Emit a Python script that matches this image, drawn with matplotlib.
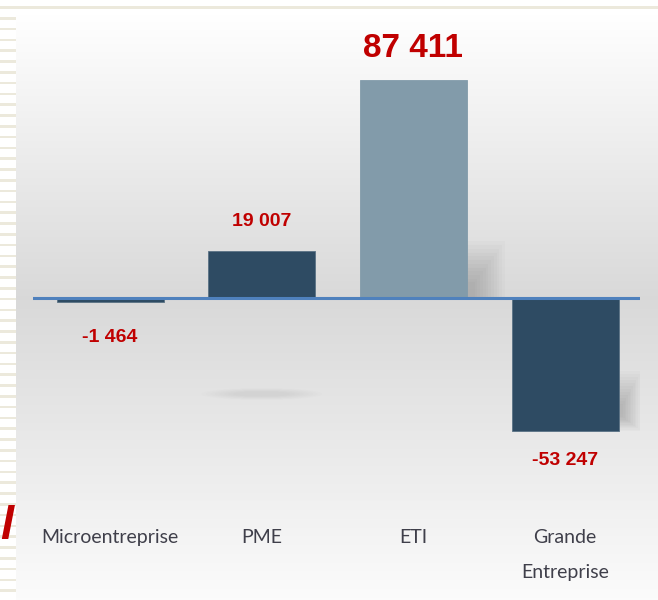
import numpy as np
import matplotlib
matplotlib.use("Agg")
import matplotlib.pyplot as plt
from matplotlib.patches import Rectangle, Ellipse

categories = ["Microentreprise", "PME", "ETI", "Grande\nEntreprise"]
values = [-1464, 19007, 87411, -53247]
value_labels = ["-1 464", "19 007", "87 411", "-53 247"]
bar_colors = ["#2E4B63", "#2E4B63", "#829BAA", "#2E4B63"]

W, H = 658, 600
fig = plt.figure(figsize=(W / 100, H / 100), dpi=100)
fig.patch.set_facecolor("white")

def fx(px):
    return px / W

def fy(py):
    return 1 - py / H

# background gradient panel
bg = fig.add_axes([fx(16), 0, 1 - fx(16), fy(14)])
yy = np.linspace(0, 1, 400)
top_c, mid_c, bot_c = 1.0, 0.85, 0.985
mid = (298 - 14) / (600 - 14)
g = np.where(yy < mid, top_c + (mid_c - top_c) * (yy / mid),
             mid_c + (bot_c - mid_c) * ((yy - mid) / (1 - mid)))
img = np.repeat(g[:, None], 2, axis=1)
bg.imshow(np.dstack([img, img, img]), aspect="auto", extent=[0, 1, 1, 0],
          interpolation="bilinear")
bg.set_xlim(0, 1)
bg.set_ylim(1, 0)
bg.axis("off")

# decorative stripes
deco = fig.add_axes([0, 0, 1, 1], zorder=-1)
deco.set_xlim(0, W)
deco.set_ylim(H, 0)
deco.axis("off")
deco.add_patch(Rectangle((0, 6), W, 3, color="#ECE9DC", lw=0))
for y0 in np.arange(17, 600, 10.8):
    deco.add_patch(Rectangle((0, y0), 16, 2.5, color="#ECE9DC", lw=0))

# main axes
ax = fig.add_axes([fx(33), fy(515), fx(640) - fx(33), fy(15) - fy(515)])
ax.patch.set_alpha(0)
scale = 401.0  # units per pixel
ax.set_ylim(-(515 - 298) * scale, (298 - 15) * scale)
ax.set_xlim(-0.508, 3.494)

x = np.arange(len(categories))
half = 0.705 / 2
# soft shadows (layered, fading)
n = 12
for k in range(n):
    a = 0.014
    ax.add_patch(Rectangle((x[2] + half, 0), 0.25 - k * 0.018,
                           values[2] * 0.26 - k * 1500,
                           color="black", alpha=a, lw=0, zorder=1))
    ax.add_patch(Rectangle((x[3] + half, values[3] + k * 500), 0.15 - k * 0.011,
                           -values[3] * 0.45 - k * 1700,
                           color="black", alpha=a, lw=0, zorder=1))
for k in range(8):
    ax.add_patch(Ellipse((1.0, -38500), 0.8 - k * 0.06, 5000 - k * 400,
                         color="black", alpha=0.009, lw=0, zorder=1))

ax.bar(x, values, width=0.705, color=bar_colors, edgecolor=["#5A7285", "#5A7285", "#829BAA", "#5A7285"],
       linewidth=0.6, zorder=3)
ax.axhline(0, color="#4F81BD", lw=2.2, zorder=4)

vfam = ["Liberation Sans", "DejaVu Sans"]
for i, (v, lab) in enumerate(zip(values, value_labels)):
    big = i == 2
    if v >= 0:
        off = 32 if big else 29
    else:
        off = -36 if i == 0 else -30
    ax.annotate(lab, (x[i], v), xytext=(0, off * 0.72), textcoords="offset points",
                ha="center", va="center", color="#C00000", fontweight="bold",
                fontsize=24 if big else 14, family=vfam, zorder=5)

ax.set_xticks(x)
ax.set_xticklabels(categories, fontsize=14, color="#3F3F4A", family=["Lato", "DejaVu Sans"],
                   linespacing=2.3)
ax.tick_params(axis="x", length=0, pad=10)
ax.set_yticks([])
for s in ax.spines.values():
    s.set_visible(False)

fig.text(fx(0.5), fy(527), "l", color="#C00000", fontsize=34, fontweight="bold",
         style="italic", family=vfam, ha="left", va="center")

fig.savefig("out.png", dpi=100)
